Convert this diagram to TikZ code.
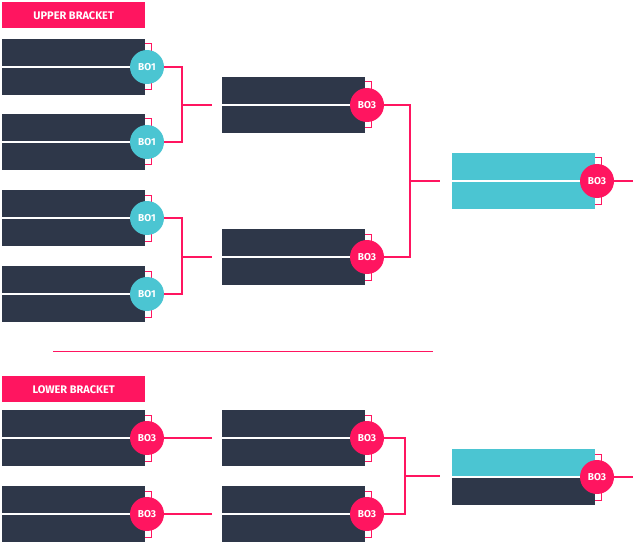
\documentclass[tikz,border=0pt]{standalone}
\usepackage{fontspec}
\setmainfont{Fira Sans}
\definecolor{dk}{HTML}{2E3749}
\definecolor{pk}{HTML}{FF1560}
\definecolor{cy}{HTML}{4BC5D2}
\begin{document}
\begin{tikzpicture}[x=1pt,y=-1pt,
  bar/.style={fill=#1,draw=none},
  con/.style={draw=pk,line width=1.2pt},
  badge/.style={circle,fill=#1,minimum size=34pt,inner sep=0pt,text=white,font=\bfseries\fontsize{10}{10}\selectfont},
  lbl/.style={fill=pk,text=white,font=\bfseries\fontsize{11}{11}\selectfont,minimum width=143pt,minimum height=26pt,inner sep=0pt}]
\useasboundingbox (0,0) rectangle (633,543);
% match macro: x-left, center y, top colour, bottom colour, badge colour, text, name
\newcommand\mymatch[7]{%
  \fill[#3] (#1,#2-28) rectangle (#1+143,#2-1);
  \fill[#4] (#1,#2+1) rectangle (#1+143,#2+28);
  \draw[pk,line width=1pt] (#1+143,#2-23) -- (#1+149,#2-23) -- (#1+149,#2+23) -- (#1+143,#2+23);
  \node[badge=#5] (#7) at (#1+145,#2) {#6};}
\node[lbl,anchor=north west] (ub) at (2,2) {UPPER BRACKET};
\node[lbl,anchor=north west] (lb) at (2,376) {LOWER BRACKET};
% upper
\mymatch{2}{67}{dk}{dk}{cy}{BO1}{a1}
\mymatch{2}{142}{dk}{dk}{cy}{BO1}{a2}
\mymatch{2}{218}{dk}{dk}{cy}{BO1}{a3}
\mymatch{2}{294}{dk}{dk}{cy}{BO1}{a4}
\mymatch{222}{105}{dk}{dk}{pk}{BO3}{b1}
\mymatch{222}{257}{dk}{dk}{pk}{BO3}{b2}
\mymatch{452}{181}{cy}{cy}{pk}{BO3}{c1}
\coordinate (m1) at (212,105);
\coordinate (m2) at (212,257);
\coordinate (m3) at (440,181);
\coordinate (e1) at (633,181);
\draw[con] (a1.east) -| (182,105) |- (a2.east);
\draw[con] (182,105) -- (m1);
\draw[con] (a3.east) -| (182,257) |- (a4.east);
\draw[con] (182,257) -- (m2);
\draw[con] (b1.east) -| (410,181) |- (b2.east);
\draw[con] (410,181) -- (m3);
\draw[con] (c1.east) -- (e1);
\coordinate (s1) at (53,351); \coordinate (s2) at (433,351);
\draw[pk,line width=1pt] (s1) -- (s2);
% lower
\mymatch{2}{438}{dk}{dk}{pk}{BO3}{d1}
\mymatch{2}{514}{dk}{dk}{pk}{BO3}{d2}
\mymatch{222}{438}{dk}{dk}{pk}{BO3}{f1}
\mymatch{222}{514}{dk}{dk}{pk}{BO3}{f2}
\mymatch{452}{477}{cy}{dk}{pk}{BO3}{g1}
\coordinate (n1) at (212,438); \coordinate (n2) at (212,514);
\coordinate (n3) at (440,476); \coordinate (e2) at (633,477);
\draw[con] (d1.east) -- (n1);
\draw[con] (d2.east) -- (n2);
\draw[con] (f1.east) -| (405,476) |- (f2.east);
\draw[con] (405,476) -- (n3);
\draw[con] (g1.east) -- (e2);
\end{tikzpicture}
\end{document}
